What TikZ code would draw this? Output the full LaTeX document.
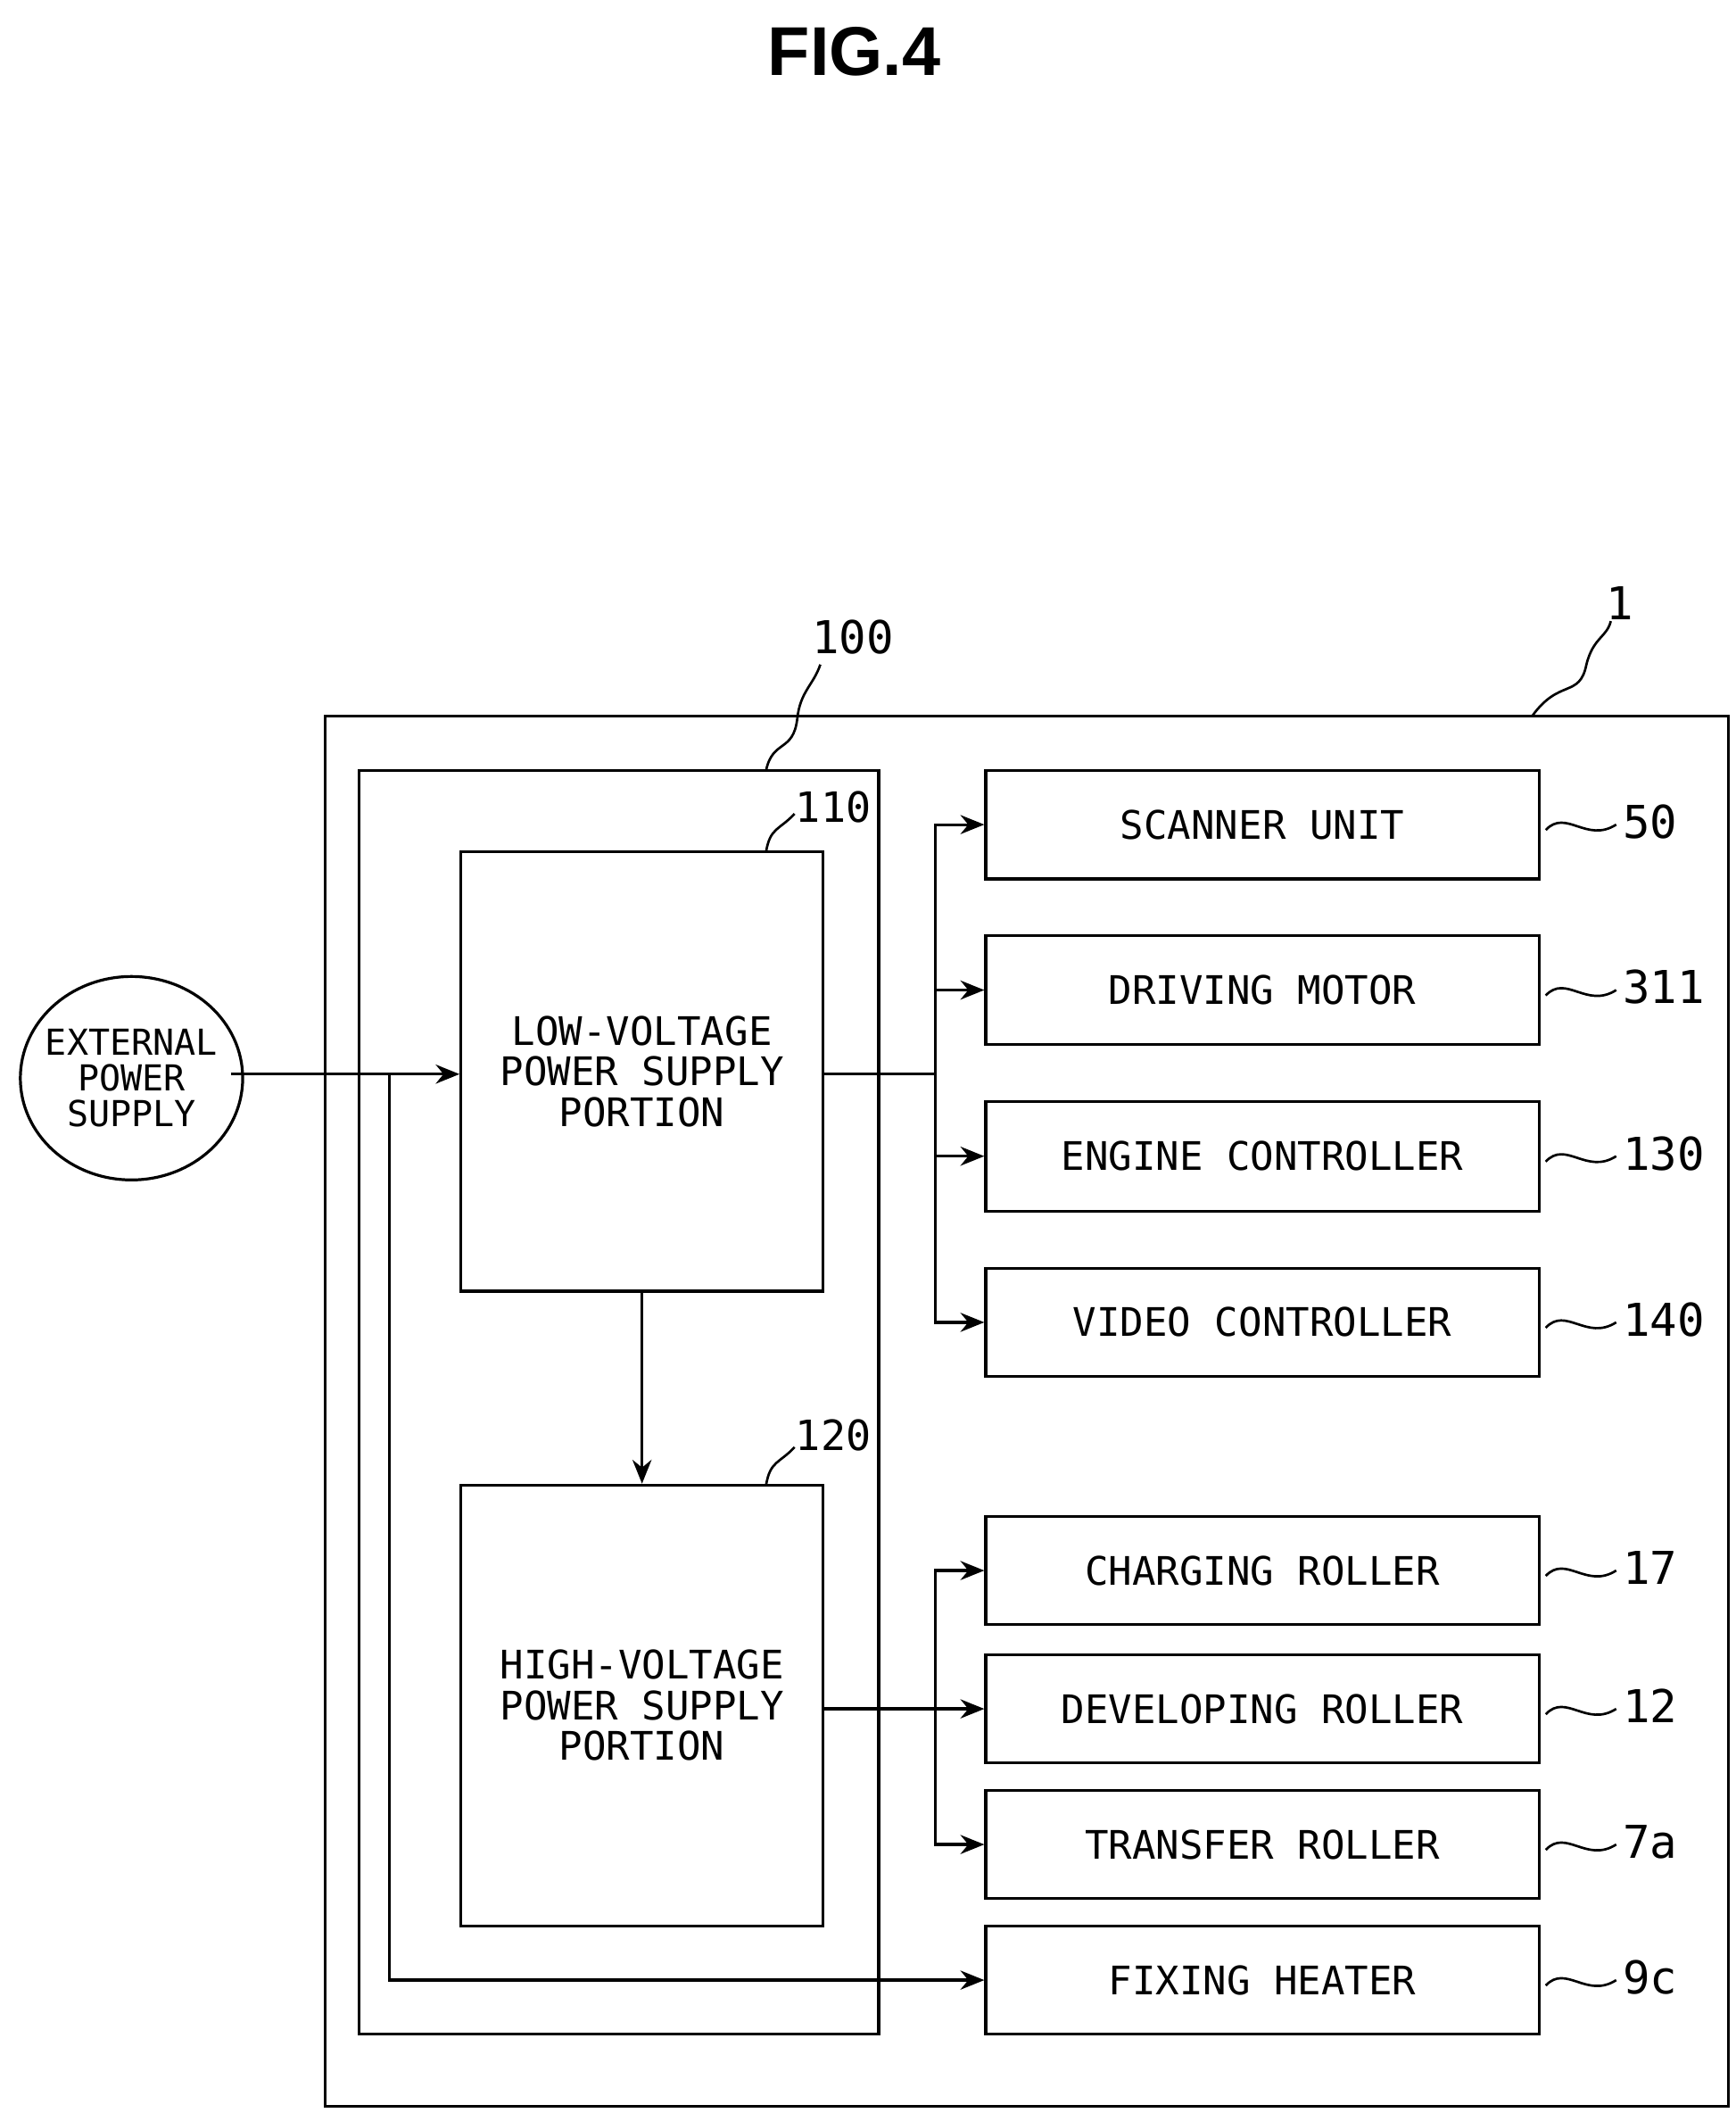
\documentclass[tikz,border=0pt]{standalone}
\usepackage{fontspec}
\setmainfont{DejaVu Sans Mono}
\newfontfamily\titlefont{Liberation Sans}
\usetikzlibrary{arrows.meta}
\begin{document}
\begin{tikzpicture}[x=0.02cm,y=-0.02cm,line width=1.2pt,
 box/.style={draw,inner sep=0},
 lab/.style={font=\fontsize{16.5}{20}\selectfont},
 num/.style={font=\fontsize{19}{22}\selectfont,anchor=west,inner sep=1pt},
 arr/.style={-{Stealth[length=10pt,width=8pt]}},
 sq/.style={line width=1pt}]
\useasboundingbox (0,0) rectangle (1280,1558);
\node[font=\titlefont\bfseries\fontsize{29}{32}\selectfont] (t) at (630,38) {FIG.4};
% containers
\draw (240,528) rectangle (1275,1553);
\draw (265,568) rectangle (648,1500);
\node[num] (n1) at (1182,445) {1};
\draw[sq] (1130,528) .. controls (1150,500) and (1165,515) .. (1170,490) .. controls (1175,470) and (1185,470) .. (1188,458);
\node[num] (n100) at (596,470) {100};
\draw[sq] (565,568) .. controls (570,545) and (585,555) .. (588,530) .. controls (590,510) and (600,505) .. (605,490);
% 110, 120
\node[box,minimum width=267*0.02cm,minimum height=324*0.02cm,lab,align=center] (a) at (473.5,790) {LOW-VOLTAGE\\[-3pt]POWER SUPPLY\\[-3pt]PORTION};
\node[box,minimum width=267*0.02cm,minimum height=325*0.02cm,lab,align=center] (b) at (473.5,1257.5) {HIGH-VOLTAGE\\[-3pt]POWER SUPPLY\\[-3pt]PORTION};
\node[num,font=\fontsize{17.5}{20}\selectfont] (n110) at (584,595) {110};
\draw[sq] (565,628) .. controls (568,610) and (575,612) .. (586,600);
\node[num,font=\fontsize{17.5}{20}\selectfont] (n120) at (584,1058) {120};
\draw[sq] (565,1095) .. controls (568,1077) and (575,1079) .. (586,1067);
% ellipse
\draw (97,795) ellipse (82 and 75);
\node[lab,align=center,font=\fontsize{15}{18}\selectfont] (ext) at (97,795) {EXTERNAL\\[-3pt]POWER\\[-3pt]SUPPLY};
% right boxes
\foreach \n/\t/\ya/\yb/\num in {s/SCANNER UNIT/568/648/50, d/DRIVING MOTOR/690/770/311, e/ENGINE CONTROLLER/812/893/130, v/VIDEO CONTROLLER/935/1015/140, c/CHARGING ROLLER/1118/1198/17, dv/DEVELOPING ROLLER/1220/1300/12, tr/TRANSFER ROLLER/1320/1400/7a, f/FIXING HEATER/1420/1500/9c}{
 \node[box,minimum width=408*0.02cm,minimum height={(\yb-\ya)*0.02cm},lab] (\n) at (931,{(\ya+\yb)/2}) {\t};
 \draw[sq] (1140,{(\ya+\yb)/2+4}) .. controls (1155,{(\ya+\yb)/2-12}) and (1170,{(\ya+\yb)/2+14}) .. (1192,{(\ya+\yb)/2});
 \node[num] (l\n) at (1194,{(\ya+\yb)/2-2}) {\num};
}
% connectors
\coordinate (j1) at (287,792);
\draw[arr] (ext.east |- j1) ++(3,0) -- (a.west |- j1);
\draw[arr] (j1) |- (f.west);
\coordinate (bus1) at (690,792);
\draw (a.east |- bus1) -- (bus1);
\draw[arr] (bus1) |- (s.west);
\draw[arr] (bus1) |- (d.west);
\draw[arr] (bus1) |- (e.west);
\draw[arr] (bus1) |- (v.west);
\draw[arr] (a.south) -- (b.north);
\coordinate (bus2) at (690,1260);
\draw[arr] (b.east |- bus2) -- (dv.west);
\draw[arr] (bus2) |- (c.west);
\draw[arr] (bus2) |- (tr.west);
\end{tikzpicture}
\end{document}
